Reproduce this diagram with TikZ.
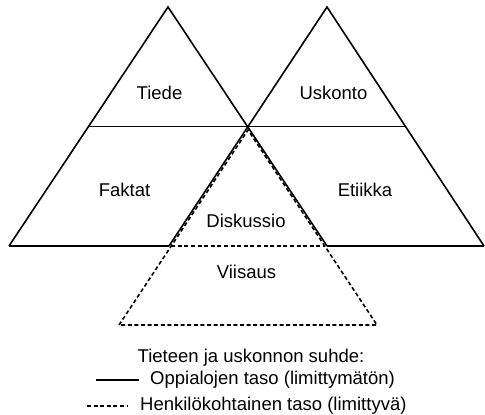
\documentclass[tikz,border=0pt]{standalone}
\usepackage{fontspec}
\setmainfont{Liberation Sans}
\usetikzlibrary{positioning,calc}
\definecolor{ink}{HTML}{000000}
\tikzset{
  lvl/.style={draw=ink,line width=1.6pt,line join=miter},
  pers/.style={draw=ink,line width=1.6pt,dash pattern=on 4pt off 2.6pt},
  lab/.style={font=\fontsize{18.5}{22}\selectfont,text=ink,inner sep=0pt},
  leg/.style={lab,anchor=west}
}

\begin{document}
\begin{tikzpicture}[x=1pt,y=-1pt]
\useasboundingbox (0,0) rectangle (485,415);
% two triangles, science left and religion right
\coordinate (ta) at (168,7);
\coordinate (tl) at (9,246);
\coordinate (tr) at (327,246);
\coordinate (ua) at (327,7);
\coordinate (ul) at (169,246);
\coordinate (ur) at (484,246);
\draw[lvl] (tl) -- (ta) -- (tr);
\draw[lvl] (ul) -- (ua) -- (ur);
\draw[lvl] (tl) -- (ul);
\draw[lvl] (tr) -- (ur);
\draw[lvl] ($(ta)!.5!(tl)$) -- ($(ua)!.5!(ur)$);
% personal level, dashed
\coordinate (pa) at (248,130);
\coordinate (pl) at (119,325);
\coordinate (pr) at (377,325);
\draw[pers] (pl) -- (pa) -- (pr) -- cycle;
\draw[pers] ($(pa)!.595!(pl)$) -- ($(pa)!.595!(pr)$);
% texts
\node[lab] (tiede) at (159.5,93) {Tiede};
\node[lab] (uskonto) at (333.5,93) {Uskonto};
\node[lab] (faktat) at (124.5,190) {Faktat};
\node[lab] (etiikka) at (365,190) {Etiikka};
\node[lab] (diskussio) at (246,221) {Diskussio};
\node[lab] (viisaus) at (246.5,272) {Viisaus};
% legend
\node[lab] (title) at (251,358) {Tieteen ja uskonnon suhde:};
\coordinate (s1) at (96,380);
\coordinate (s2) at (139,380);
\draw[lvl] (s1) -- (s2);
\node[leg,right=11pt of s2] (oppi) {Oppialojen taso (limittymätön)};
\coordinate (d1) at (87,406);
\coordinate (d2) at (128,406);
\draw[pers] (d1) -- (d2);
\node[leg,right=12pt of d2] (henk) {Henkilökohtainen taso (limittyvä)};
\end{tikzpicture}
\end{document}
